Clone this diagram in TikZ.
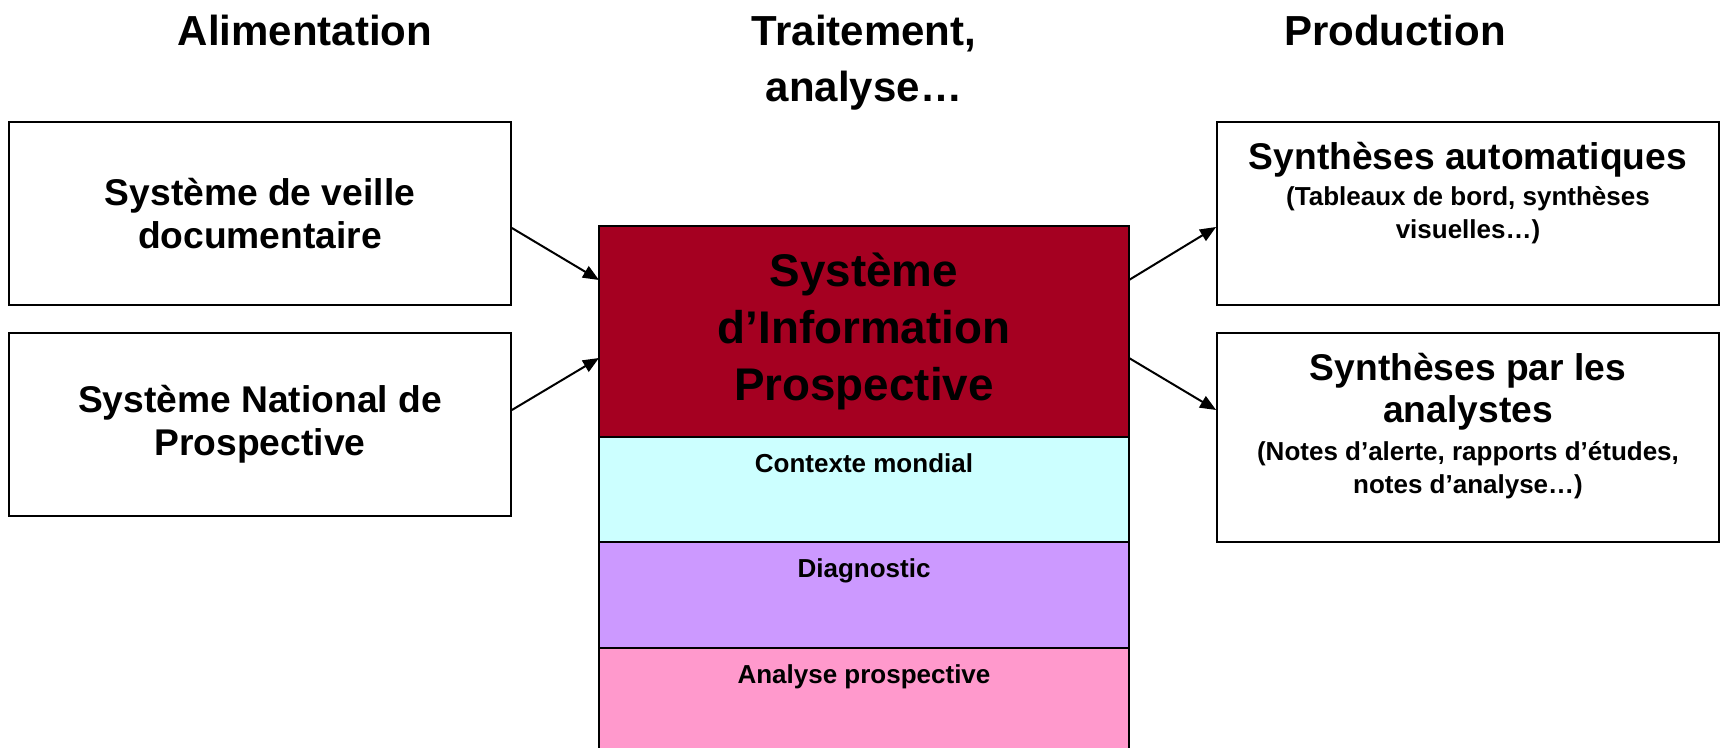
\documentclass[tikz,border=0pt]{standalone}
\usepackage{fontspec}
\setmainfont{Liberation Sans}
\usetikzlibrary{positioning,calc,arrows.meta}
\definecolor{sipred}{HTML}{A50021}
\definecolor{mondcyan}{HTML}{CCFFFF}
\definecolor{diagviolet}{HTML}{CC99FF}
\definecolor{prosppink}{HTML}{FF99CC}
\newcommand\hdfont{\fontsize{21}{28}\selectfont\bfseries}
\newcommand\bxfont{\fontsize{18.6}{21.3}\selectfont\bfseries}
\newcommand\sipfont{\fontsize{22.9}{28.6}\selectfont\bfseries}
\newcommand\lyfont{\fontsize{13}{16.5}\selectfont\bfseries}
\tikzset{%
  sys box/.style={
    draw,
    line width=0.9pt,
    inner sep=0pt,
    align=center,
    font=\bxfont,
    minimum width=251pt
  },
  layer/.style={
    draw,
    line width=0.9pt,
    inner sep=0pt,
    outer sep=0pt,
    minimum width=265pt
  },
  heading/.style={font=\hdfont, align=center, inner sep=0pt, anchor=north},
  layer text/.style={font=\lyfont, align=center, inner sep=0pt},
}

\begin{document}
\begin{tikzpicture}[x=0.5pt, y=-0.5pt, >={Triangle[length=8pt,width=6.5pt]}, line width=1pt]
        \useasboundingbox (0,0) rectangle (1721,748);

        % column headings
        \node [heading] (alim) at (305,14) {Alimentation};
        \node [heading] (trait) at (864,14) {Traitement,\\analyse…};
        \node [heading] (prod) at (1395,14) {Production};

        % inputs
        \node [sys box, minimum height=91.5pt] (veille) at (260,213.5) {Système de veille\\documentaire};
        \node [sys box, minimum height=91.5pt] (snp) at (260,424.5) {Système National de\\Prospective};

        % stack
        \node [layer, fill=sipred, minimum height=105.5pt, font=\sipfont, align=center] (sip) at (864,331.5) {Système\\d’Information\\Prospective};
        \node [layer, fill=mondcyan, minimum height=52.5pt] (monde) at (864,489.5) {};
        \node [layer, fill=diagviolet, minimum height=53pt] (diag) at (864,595) {};
        \node [layer, fill=prosppink, minimum height=52pt] (prosp) at (864,700) {};
        \foreach \l/\t in {monde/Contexte mondial, diag/Diagnostic, prosp/Analyse prospective}
            \node [layer text, below=8pt of \l.north] (\l-txt) {\t};

        % outputs
        \node [sys box, minimum height=91.5pt] (auto) at (1468,213.5) {};
        \node [sys box, minimum height=104.5pt] (analystes) at (1468,437.5) {};
        \node [font=\bxfont, inner sep=0pt, below=10pt of auto.north] (auto-t) {Synthèses automatiques};
        \node [layer text, below=3.5pt of auto-t] (auto-s) {(Tableaux de bord, synthèses\\visuelles…)};
        \node [font=\bxfont, align=center, inner sep=0pt, below=10pt of analystes.north] (analystes-t) {Synthèses par les\\analystes};
        \node [layer text, below=4.5pt of analystes-t] (analystes-s) {(Notes d’alerte, rapports d’études,\\notes d’analyse…)};

        % arrows
        \draw [->] ($(veille.east)+(0,14.5)$) -- ($(sip.west)+(0,-51.5)$);
        \draw [->] ($(snp.east)+(0,-14.5)$) -- ($(sip.west)+(0,26.5)$);
        \draw [->] ($(sip.east)+(0,-51.5)$) -- ($(auto.west)+(0,13.5)$);
        \draw [->] ($(sip.east)+(0,26.5)$) -- ($(analystes.west)+(0,-27.5)$);
\end{tikzpicture}
\end{document}
